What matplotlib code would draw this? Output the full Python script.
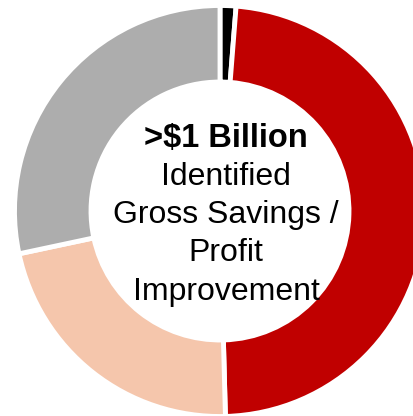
import matplotlib
matplotlib.use("Agg")
import matplotlib.pyplot as plt

# Data (share of ring, clockwise from top)
categories = ["Other", "Segment A", "Segment B", "Segment C"]
values = [1.25, 48.33, 22.08, 28.34]
colors = ["#000000", "#C00000", "#F5C6AC", "#ADADAD"]

headline = ">$1 Billion"
body_lines = ["Identified", "Gross Savings /", "Profit", "Improvement"]

W, H = 413, 416
fig = plt.figure(figsize=(W / 100, H / 100), dpi=100)
ax = fig.add_axes([0, 0, 1, 1])

cx, cy = 220, H - 211
ax.pie(values, colors=colors, startangle=90, counterclock=False,
       center=(cx, cy), radius=205.5,
       wedgeprops=dict(width=76.5, edgecolor="white", linewidth=3.5),
       frame=True)
ax.set_xlim(0, W)
ax.set_ylim(0, H)
ax.set_aspect("equal")
ax.axis("off")

font = "Liberation Sans"
tx = 226
baselines = [147, 185, 223, 261, 300]
ax.text(tx, H - baselines[0], headline, ha="center", va="baseline",
        fontsize=23.5, fontweight="bold", family=font)
for line, b in zip(body_lines, baselines[1:]):
    ax.text(tx, H - b, line, ha="center", va="baseline",
            fontsize=23, family=font)

fig.savefig("out.png", dpi=100)
